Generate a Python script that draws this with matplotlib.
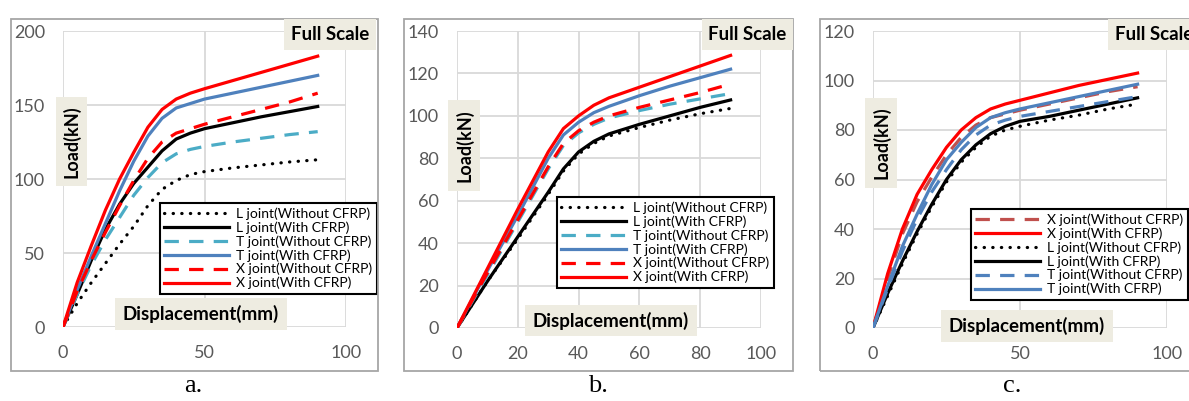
import matplotlib
matplotlib.use("Agg")
import matplotlib.pyplot as plt
from matplotlib.patches import Rectangle

W, H = 1189, 401

# ---- data (displacement in mm, load in kN) ----
disp_a = [0, 5, 10, 15, 20, 25, 30, 35, 40, 45, 50, 60, 70, 80, 90]
a_l_wo = [0, 16, 30, 43, 56, 68, 82, 93, 99, 103, 105, 107.5, 109.5, 111.5, 113]
a_l_with = [0, 22, 45, 66, 83, 97, 108, 119, 127, 131, 134, 138, 142, 145.5, 149]
a_t_wo = [0, 22, 42, 59, 74, 89, 101, 111, 117, 120, 122, 125, 127.5, 130, 132]
a_t_with = [0, 25, 48, 70, 92, 112, 129, 141, 148, 151, 154, 158, 162, 166, 170]
a_x_wo = [0, 24, 45, 64, 82, 99, 114, 125, 131, 134, 137, 142, 147, 152, 158]
a_x_with = [0, 30, 55, 79, 100, 118, 135, 147, 154, 158, 161, 166.5, 172, 177.5, 183]

disp_b = [0, 10, 20, 30, 35, 40, 45, 50, 60, 70, 80, 90]
b_l_wo = [0, 22, 42, 63, 74, 82, 87, 90.5, 94.5, 98, 101, 103.5]
b_l_with = [0, 22, 43, 64, 75, 83, 88, 91.5, 96, 100, 104, 107.5]
b_t_wo = [0, 25, 50, 75, 86, 92, 96, 99, 102.5, 105.5, 108, 110.5]
b_t_with = [0, 27, 53, 80, 91, 97, 101.5, 104.5, 109.5, 114, 118, 122]
b_x_wo = [0, 26, 51, 76, 87, 93, 97, 100, 104, 107.5, 111, 115]
b_x_with = [0, 28, 56, 83, 94, 100, 105, 108.5, 113.5, 118.5, 123.5, 128.5]

disp_c = [0, 5, 10, 15, 20, 25, 30, 35, 40, 45, 50, 60, 70, 80, 90]
c_x_wo = [0, 20, 38, 51, 61, 70, 77, 82, 85, 86.5, 88, 90.5, 93, 95.5, 97.5]
c_x_with = [0, 22, 40, 54, 64, 73, 80, 85, 88.5, 90.5, 92, 95, 98, 100.5, 103]
c_l_wo = [0, 13, 26, 38, 49, 59, 67, 73, 77.5, 80, 81.5, 84, 86, 88.5, 90.5]
c_l_with = [0, 14, 27, 39, 50, 60, 68, 74, 78.5, 81.5, 83.5, 85.5, 88, 90.5, 93]
c_t_wo = [0, 16, 31, 44, 55, 64, 72, 78, 82, 84, 85.5, 87.5, 89.5, 91.5, 93.5]
c_t_with = [0, 17, 33, 46, 58, 68, 75, 81, 85, 87, 88.5, 91, 93.5, 96, 98.5]

lbl_l_wo = "L joint(Without CFRP)"
lbl_l_with = "L joint(With CFRP)"
lbl_t_wo = "T joint(Without CFRP)"
lbl_t_with = "T joint(With CFRP)"
lbl_x_wo = "X joint(Without CFRP)"
lbl_x_with = "X joint(With CFRP)"

# ---- styles ----
RED = "#FF0000"
BLUE = "#4F81BD"
TEAL = "#4BACC6"
DRED = "#C0504D"
DOT = (0, (0.1, 2.6))
DASH = (0, (4.5, 3.2))
LW = 2.3
BEIGE = "#EEECE1"
FONT = "Lato"


def fx(px):
    return px / W


def fy(py):
    return 1 - py / H


def make_axes(fig, l, r, t, b, ymax, ystep, xstep):
    ax = fig.add_axes([fx(l), fy(b), (r - l) / W, (b - t) / H])
    ax.set_xlim(0, 100)
    ax.set_ylim(0, ymax)
    ax.set_xticks(range(0, 101, xstep))
    ax.set_yticks(range(0, ymax + 1, ystep))
    for s in ax.spines.values():
        s.set_visible(False)
    ax.grid(True, color="#D9D9D9", linewidth=1.3)
    ax.set_axisbelow(True)
    ax.tick_params(length=0, pad=13, labelsize=13, labelcolor="#595959")
    for lab in ax.get_xticklabels() + ax.get_yticklabels():
        lab.set_fontfamily(FONT)
    return ax


def curve(ax, x, y, color, ls, label):
    ax.plot(x, y, color=color, lw=LW, ls=ls, label=label,
            dash_capstyle="round" if ls == DOT else "butt")


def box(fig, l, r, t, b, text, fs, rot=0):
    fig.patches.append(Rectangle((fx(l), fy(b)), (r - l) / W, (b - t) / H,
                                 transform=fig.transFigure, facecolor=BEIGE,
                                 edgecolor="none", zorder=5))
    fig.text(fx((l + r) / 2), fy((t + b) / 2), text, ha="center", va="center",
             rotation=rot, fontsize=fs, fontweight="bold", family=FONT, zorder=6)


def frame(fig, l, r, t, b):
    fig.patches.append(Rectangle((fx(l), fy(b)), (r - l) / W, (b - t) / H,
                                 transform=fig.transFigure, fill=False,
                                 edgecolor="#A6A6A6", linewidth=1.3, zorder=1))


def legend(ax, fig, l, t):
    leg = ax.legend(loc="upper left", bbox_to_anchor=(fx(l), fy(t)),
                    bbox_transform=fig.transFigure, borderaxespad=0,
                    fancybox=False, framealpha=1, edgecolor="black",
                    prop={"family": FONT, "size": 10}, handlelength=4.7,
                    handletextpad=0.5, labelspacing=0.1, borderpad=0.3)
    leg.get_frame().set_linewidth(1.5)
    return leg


fig = plt.figure(figsize=(W / 100, H / 100), dpi=100)

# ---- panel a ----
frame(fig, 11, 378, 19, 371)
ax = make_axes(fig, 63, 346, 31, 327, 200, 50, 50)
curve(ax, disp_a, a_l_wo, "black", DOT, lbl_l_wo)
curve(ax, disp_a, a_l_with, "black", "-", lbl_l_with)
curve(ax, disp_a, a_t_wo, TEAL, DASH, lbl_t_wo)
curve(ax, disp_a, a_t_with, BLUE, "-", lbl_t_with)
curve(ax, disp_a, a_x_wo, RED, DASH, lbl_x_wo)
curve(ax, disp_a, a_x_with, RED, "-", lbl_x_with)
legend(ax, fig, 160, 203)
box(fig, 284, 376, 19, 50, "Full Scale", 13.5)
box(fig, 56, 87, 97, 186, "Load(kN)", 13, rot=90)
box(fig, 115, 287, 298, 330, "Displacement(mm)", 13.5)

# ---- panel b ----
frame(fig, 404, 793, 19, 371)
ax = make_axes(fig, 457, 761, 31, 328, 140, 20, 20)
curve(ax, disp_b, b_l_wo, "black", DOT, lbl_l_wo)
curve(ax, disp_b, b_l_with, "black", "-", lbl_l_with)
curve(ax, disp_b, b_t_wo, TEAL, DASH, lbl_t_wo)
curve(ax, disp_b, b_t_with, BLUE, "-", lbl_t_with)
curve(ax, disp_b, b_x_wo, RED, DASH, lbl_x_wo)
curve(ax, disp_b, b_x_with, RED, "-", lbl_x_with)
legend(ax, fig, 557, 197)
box(fig, 702, 793, 19, 50, "Full Scale", 13.5)
box(fig, 448, 480, 100, 191, "Load(kN)", 13, rot=90)
box(fig, 525, 697, 305, 336, "Displacement(mm)", 13.5)

# ---- panel c (cut off at the right edge, as in the source) ----
frame(fig, 820, 1215, 19, 371)
ax = make_axes(fig, 873, 1167, 31, 328, 120, 20, 50)
curve(ax, disp_c, c_x_wo, DRED, DASH, lbl_x_wo)
curve(ax, disp_c, c_x_with, RED, "-", lbl_x_with)
curve(ax, disp_c, c_l_wo, "black", DOT, lbl_l_wo)
curve(ax, disp_c, c_l_with, "black", "-", lbl_l_with)
curve(ax, disp_c, c_t_wo, BLUE, DASH, lbl_t_wo)
curve(ax, disp_c, c_t_with, BLUE, "-", lbl_t_with)
legend(ax, fig, 971, 209)
box(fig, 1108, 1200, 19, 50, "Full Scale", 13.5)
box(fig, 865, 897, 98, 188, "Load(kN)", 13, rot=90)
box(fig, 941, 1113, 310, 342, "Displacement(mm)", 13.5)

# panel captions
for px, s in [(193, "a."), (598, "b."), (1012, "c.")]:
    fig.text(fx(px), fy(386), s, ha="center", va="center",
             family="Liberation Serif", fontsize=19)

fig.savefig("out.png", dpi=100)
